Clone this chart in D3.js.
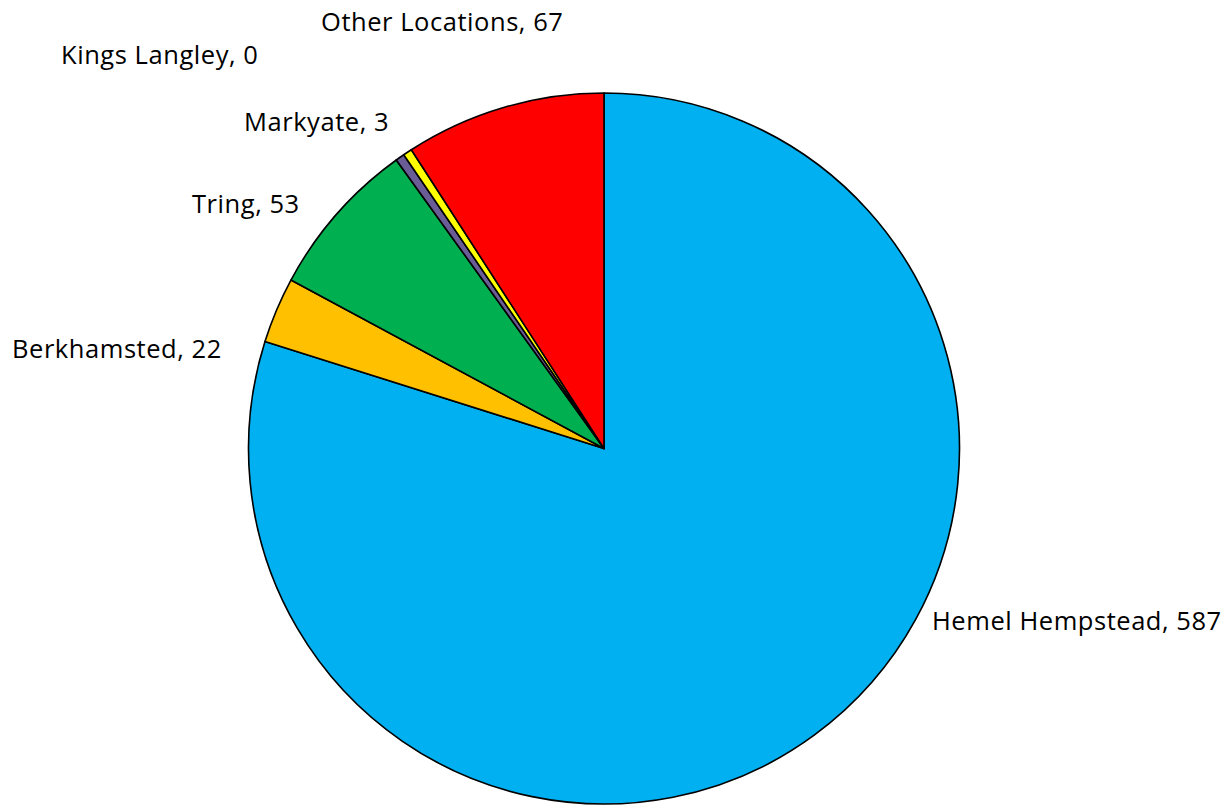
<!DOCTYPE html>
<html>
<head>
<meta charset="utf-8">
<script src="https://cdn.jsdelivr.net/npm/d3@7"></script>
<style>
  html, body { margin: 0; padding: 0; background: #fff; }
  svg { display: block; }
  text { font-family: "Open Sans", Lato, sans-serif; fill: #000; }
</style>
</head>
<body>
<svg id="chart" width="1231" height="808"></svg>
<script>
// ---- data ----
const categories = ["Hemel Hempstead", "Berkhamsted", "Tring", "Kings Langley", "Markyate", "Other Locations"];
const values = [587, 22, 53, 3, 3, 67];          // slice sizes
const shownLabels = ["587", "22", "53", "0", "3", "67"]; // numbers printed in the data labels
const colors = ["#00B0F0", "#FFC000", "#00B050", "#6A5C94", "#FFFF00", "#FF0000"];

// ---- layout ----
const W = 1231, H = 808;
const cx = 604, cy = 448.5, R = 355.5;
// label anchor (left x, baseline y) as offsets from the pie centre
const labelOffsets = [
  [328, 181],   // Hemel Hempstead
  [-592, -91],  // Berkhamsted
  [-412, -236], // Tring
  [-543, -385], // Kings Langley
  [-360, -318], // Markyate
  [-283, -418]  // Other Locations
];

const svg = d3.select("#chart");
const g = svg.append("g").attr("transform", `translate(${cx},${cy})`);

const pie = d3.pie().sort(null).value(d => d.value);
const arc = d3.arc().innerRadius(0).outerRadius(R);

const data = categories.map((c, i) => ({ name: c, value: values[i], label: shownLabels[i], color: colors[i], off: labelOffsets[i] }));
const arcs = pie(data);

g.selectAll("path.slice")
  .data(arcs)
  .join("path")
  .attr("class", "slice")
  .attr("d", arc)
  .attr("fill", d => d.data.color)
  .attr("stroke", "#000")
  .attr("stroke-width", 1.6)
  .attr("stroke-linejoin", "round");

g.selectAll("text.lbl")
  .data(arcs)
  .join("text")
  .attr("class", "lbl")
  .attr("x", d => d.data.off[0])
  .attr("y", d => d.data.off[1])
  .attr("font-size", 25.5)
  .attr("letter-spacing", 0.55)
  .text(d => `${d.data.name}, ${d.data.label}`);
</script>
</body>
</html>
